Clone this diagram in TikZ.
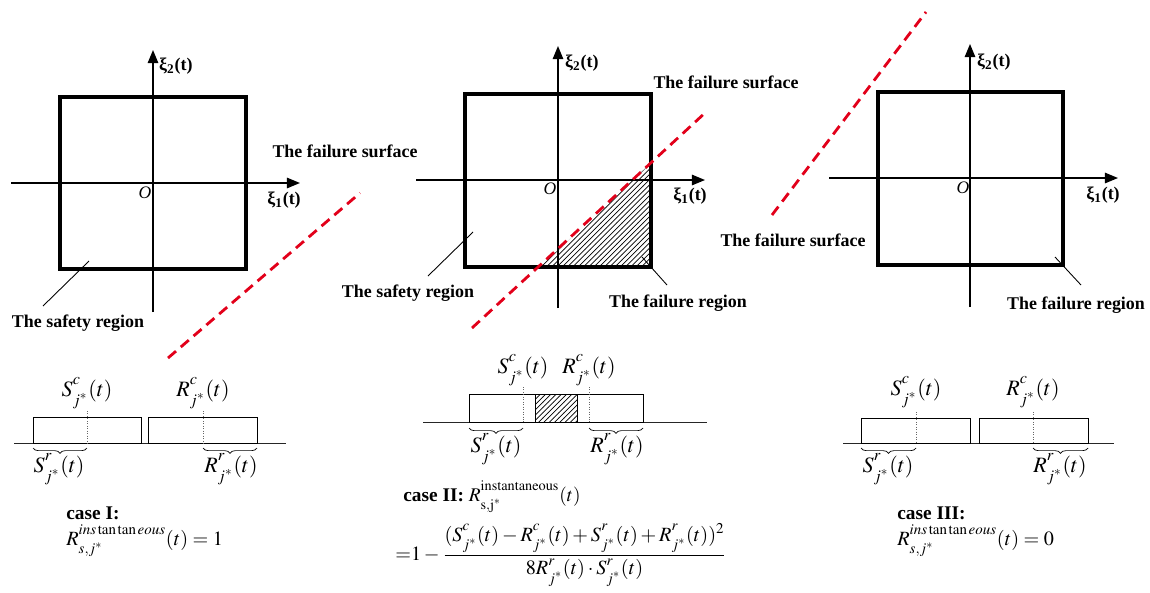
\documentclass[tikz,border=0pt]{standalone}
\usepackage{mathptmx}
\usepackage{fontspec}
\setmainfont{Liberation Serif}
\usetikzlibrary{arrows.meta,patterns,decorations.pathreplacing}
\definecolor{rosso}{RGB}{226,0,26}
\newcommand{\sopra}[1]{\raisebox{2pt}{$\scriptstyle #1$}}
\newcommand{\sotto}[1]{\raisebox{-2pt}{$\scriptstyle #1$}}
\newcommand{\intv}[3]{#1^{\sopra{#2}}_{\sotto{#3}}}
\tikzset{
  quadro/.style={draw, line width=1.8pt},
  asse/.style={line width=0.8pt, -{Triangle[length=7.5pt,width=6pt]}},
  superficie/.style={rosso, line width=1.6pt, dash pattern=on 6pt off 3.6pt},
  etich/.style={font=\fontsize{10.2}{12}\selectfont\bfseries, inner sep=1pt},
  origine/.style={font=\fontsize{10}{12}\selectfont\itshape, inner sep=0pt},
  guida/.style={line width=0.5pt},
  base/.style={line width=0.5pt, black!85},
  blocco/.style={draw, line width=0.5pt},
  centro/.style={densely dotted, line width=0.4pt, black!60},
  graffa/.style={decorate, decoration={brace, mirror, amplitude=3pt}, line width=0.4pt},
  mat/.style={font=\fontsize{12.5}{15}\selectfont, inner sep=0pt},
  caso/.style={font=\fontsize{11}{13}\selectfont\bfseries, inner sep=0pt, anchor=west},
  formula/.style={font=\fontsize{11.5}{14}\selectfont, inner sep=0pt, anchor=west}
}
\begin{document}
\begin{tikzpicture}[x=0.02cm, y=-0.02cm]
    \useasboundingbox (0,0) rectangle (1150,592);

    % Piano 1: regione sicura
    \coordinate (q1a) at (60,97);
    \coordinate (q1b) at (246,269);
    \draw[quadro] (q1a) rectangle (q1b);
    \coordinate (x1a) at (11,183);
    \coordinate (x1b) at (300,183);
    \coordinate (y1a) at (153,312);
    \coordinate (y1b) at (153,50);
    \draw[asse] (x1a) -- (x1b);
    \draw[asse] (y1a) -- (y1b);
    \node[etich, anchor=west] (xi2p1) at (157,66) {ξ\textsubscript{2}(t)};
    \node[etich] (xi1p1) at (284,200) {ξ\textsubscript{1}(t)};
    \node[origine] (o1) at (145,193) {O};
    \node[etich] (fs1) at (345,151) {The failure surface};
    \coordinate (s1a) at (168,358);
    \coordinate (s1b) at (360,193);
    \draw[superficie] (s1a) -- (s1b);
    \node[etich] (sr1) at (78,323) {The safety region};
    \coordinate (l1a) at (43,306);
    \coordinate (l1b) at (89,261);
    \draw[guida] (l1a) -- (l1b);

    % Piano 2: regione di guasto tratteggiata
    \coordinate (h2a) at (540,267);
    \coordinate (h2b) at (651,267);
    \coordinate (h2c) at (651,163);
    \fill[pattern=north east lines] (h2a) -- (h2b) -- (h2c) -- cycle;
    \coordinate (q2a) at (465,94);
    \coordinate (q2b) at (651,267);
    \draw[quadro] (q2a) rectangle (q2b);
    \coordinate (x2a) at (416,180);
    \coordinate (x2b) at (705,180);
    \coordinate (y2a) at (558,308);
    \coordinate (y2b) at (558,46);
    \draw[asse] (x2a) -- (x2b);
    \draw[asse] (y2a) -- (y2b);
    \node[etich, anchor=west] (xi2p2) at (563,63) {ξ\textsubscript{2}(t)};
    \node[etich] (xi1p2) at (690,196) {ξ\textsubscript{1}(t)};
    \node[origine] (o2) at (550,189) {O};
    \node[etich] (fs2) at (726,82) {The failure surface};
    \coordinate (s2a) at (472,328);
    \coordinate (s2b) at (706,112);
    \draw[superficie] (s2a) -- (s2b);
    \node[etich] (sr2) at (408,293) {The safety region};
    \coordinate (l2a) at (428,276);
    \coordinate (l2b) at (473,232);
    \draw[guida] (l2a) -- (l2b);
    \node[etich] (fr2) at (678,303) {The failure region};
    \coordinate (m2a) at (642,257);
    \coordinate (m2b) at (667,285);
    \draw[guida] (m2a) -- (m2b);

    % Piano 3: superficie lontana
    \coordinate (q3a) at (878,92);
    \coordinate (q3b) at (1063,265);
    \draw[quadro] (q3a) rectangle (q3b);
    \coordinate (x3a) at (829,178);
    \coordinate (x3b) at (1118,178);
    \coordinate (y3a) at (970,307);
    \coordinate (y3b) at (970,44);
    \draw[asse] (x3a) -- (x3b);
    \draw[asse] (y3a) -- (y3b);
    \node[etich, anchor=west] (xi2p3) at (975,62) {ξ\textsubscript{2}(t)};
    \node[etich] (xi1p3) at (1103,195) {ξ\textsubscript{1}(t)};
    \node[origine] (o3) at (963,188) {O};
    \coordinate (s3a) at (772,215);
    \coordinate (s3b) at (926,12);
    \draw[superficie] (s3a) -- (s3b);
    \node[etich] (fs3) at (793,240) {The failure surface};
    \node[etich] (fr3) at (1076,305) {The failure region};
    \coordinate (m3a) at (1055,257);
    \coordinate (m3b) at (1081,285);
    \draw[guida] (m3a) -- (m3b);

    % Intervalli caso I
    \coordinate (b1a) at (14,443);
    \coordinate (b1b) at (286,443);
    \draw[base] (b1a) -- (b1b);
    \coordinate (r1a) at (33,417);
    \coordinate (r1b) at (141,443);
    \coordinate (r1c) at (148,417);
    \coordinate (r1d) at (257,443);
    \draw[blocco] (r1a) rectangle (r1b);
    \draw[blocco] (r1c) rectangle (r1d);
    \coordinate (c1a) at (87,411);
    \coordinate (c1b) at (87,443);
    \coordinate (c1c) at (203,411);
    \coordinate (c1d) at (203,443);
    \draw[centro] (c1a) -- (c1b);
    \draw[centro] (c1c) -- (c1d);
    \node[mat] (sc1) at (87,393) {$\intv{S}{c}{j^*}(t)$};
    \node[mat] (rc1) at (203,393) {$\intv{R}{c}{j^*}(t)$};
    \coordinate (g1a) at (33,448);
    \coordinate (g1b) at (87,448);
    \coordinate (g1c) at (203,448);
    \coordinate (g1d) at (257,448);
    \draw[graffa] (g1a) -- (g1b);
    \draw[graffa] (g1c) -- (g1d);
    \node[mat] (sr1m) at (59,469) {$\intv{S}{r}{j^*}(t)$};
    \node[mat] (rr1m) at (231,469) {$\intv{R}{r}{j^*}(t)$};
    \node[caso] (k1) at (66,513) {case I:};
    \node[formula] (f1) at (66,541) {$\intv{R}{ins\tan\tan eous}{s,j^*}(t)=1$};

    % Intervalli caso II
    \coordinate (b2a) at (423,422);
    \coordinate (b2b) at (707,422);
    \draw[base] (b2a) -- (b2b);
    \coordinate (r2a) at (469,394);
    \coordinate (r2b) at (577,422);
    \coordinate (r2c) at (535,394);
    \coordinate (r2d) at (643,422);
    \fill[pattern=north east lines] (r2c) rectangle (r2b);
    \draw[blocco] (r2a) rectangle (r2b);
    \draw[blocco] (r2c) rectangle (r2d);
    \coordinate (c2a) at (523,387);
    \coordinate (c2b) at (523,422);
    \coordinate (c2c) at (589,387);
    \coordinate (c2d) at (589,422);
    \draw[centro] (c2a) -- (c2b);
    \draw[centro] (c2c) -- (c2d);
    \node[mat] (sc2) at (523,370) {$\intv{S}{c}{j^*}(t)$};
    \node[mat] (rc2) at (589,370) {$\intv{R}{c}{j^*}(t)$};
    \coordinate (g2a) at (469,428);
    \coordinate (g2b) at (523,428);
    \coordinate (g2c) at (589,428);
    \coordinate (g2d) at (643,428);
    \draw[graffa] (g2a) -- (g2b);
    \draw[graffa] (g2c) -- (g2d);
    \node[mat] (sr2m) at (496,449) {$\intv{S}{r}{j^*}(t)$};
    \node[mat] (rr2m) at (617,449) {$\intv{R}{r}{j^*}(t)$};
    \node[formula] (k2) at (403,497) {\fontsize{11}{13}\selectfont\textbf{case II:} $\intv{R}{\mathrm{instantaneous}}{\mathrm{s,j}^*}(t)$};
    \node[formula] (f2) at (395,555) {${=}1-\displaystyle\frac{(\intv{S}{c}{j^*}(t)-\intv{R}{c}{j^*}(t)+\intv{S}{r}{j^*}(t)+\intv{R}{r}{j^*}(t))^2}{8\intv{R}{r}{j^*}(t)\cdot \intv{S}{r}{j^*}(t)}$};

    % Intervalli caso III
    \coordinate (b3a) at (843,443);
    \coordinate (b3b) at (1114,443);
    \draw[base] (b3a) -- (b3b);
    \coordinate (r3a) at (861,418);
    \coordinate (r3b) at (970,443);
    \coordinate (r3c) at (979,418);
    \coordinate (r3d) at (1088,443);
    \draw[blocco] (r3a) rectangle (r3b);
    \draw[blocco] (r3c) rectangle (r3d);
    \coordinate (c3a) at (916,412);
    \coordinate (c3b) at (916,443);
    \coordinate (c3c) at (1033,412);
    \coordinate (c3d) at (1033,443);
    \draw[centro] (c3a) -- (c3b);
    \draw[centro] (c3c) -- (c3d);
    \node[mat] (sc3) at (916,392) {$\intv{S}{c}{j^*}(t)$};
    \node[mat] (rc3) at (1033,392) {$\intv{R}{c}{j^*}(t)$};
    \coordinate (g3a) at (861,448);
    \coordinate (g3b) at (916,448);
    \coordinate (g3c) at (1033,448);
    \coordinate (g3d) at (1088,448);
    \draw[graffa] (g3a) -- (g3b);
    \draw[graffa] (g3c) -- (g3d);
    \node[mat] (sr3m) at (888,469) {$\intv{S}{r}{j^*}(t)$};
    \node[mat] (rr3m) at (1060,469) {$\intv{R}{r}{j^*}(t)$};
    \node[caso] (k3) at (897,513) {case III:};
    \node[formula] (f3) at (897,541) {$\intv{R}{ins\tan\tan eous}{s,j^*}(t)=0$};
\end{tikzpicture}
\end{document}
